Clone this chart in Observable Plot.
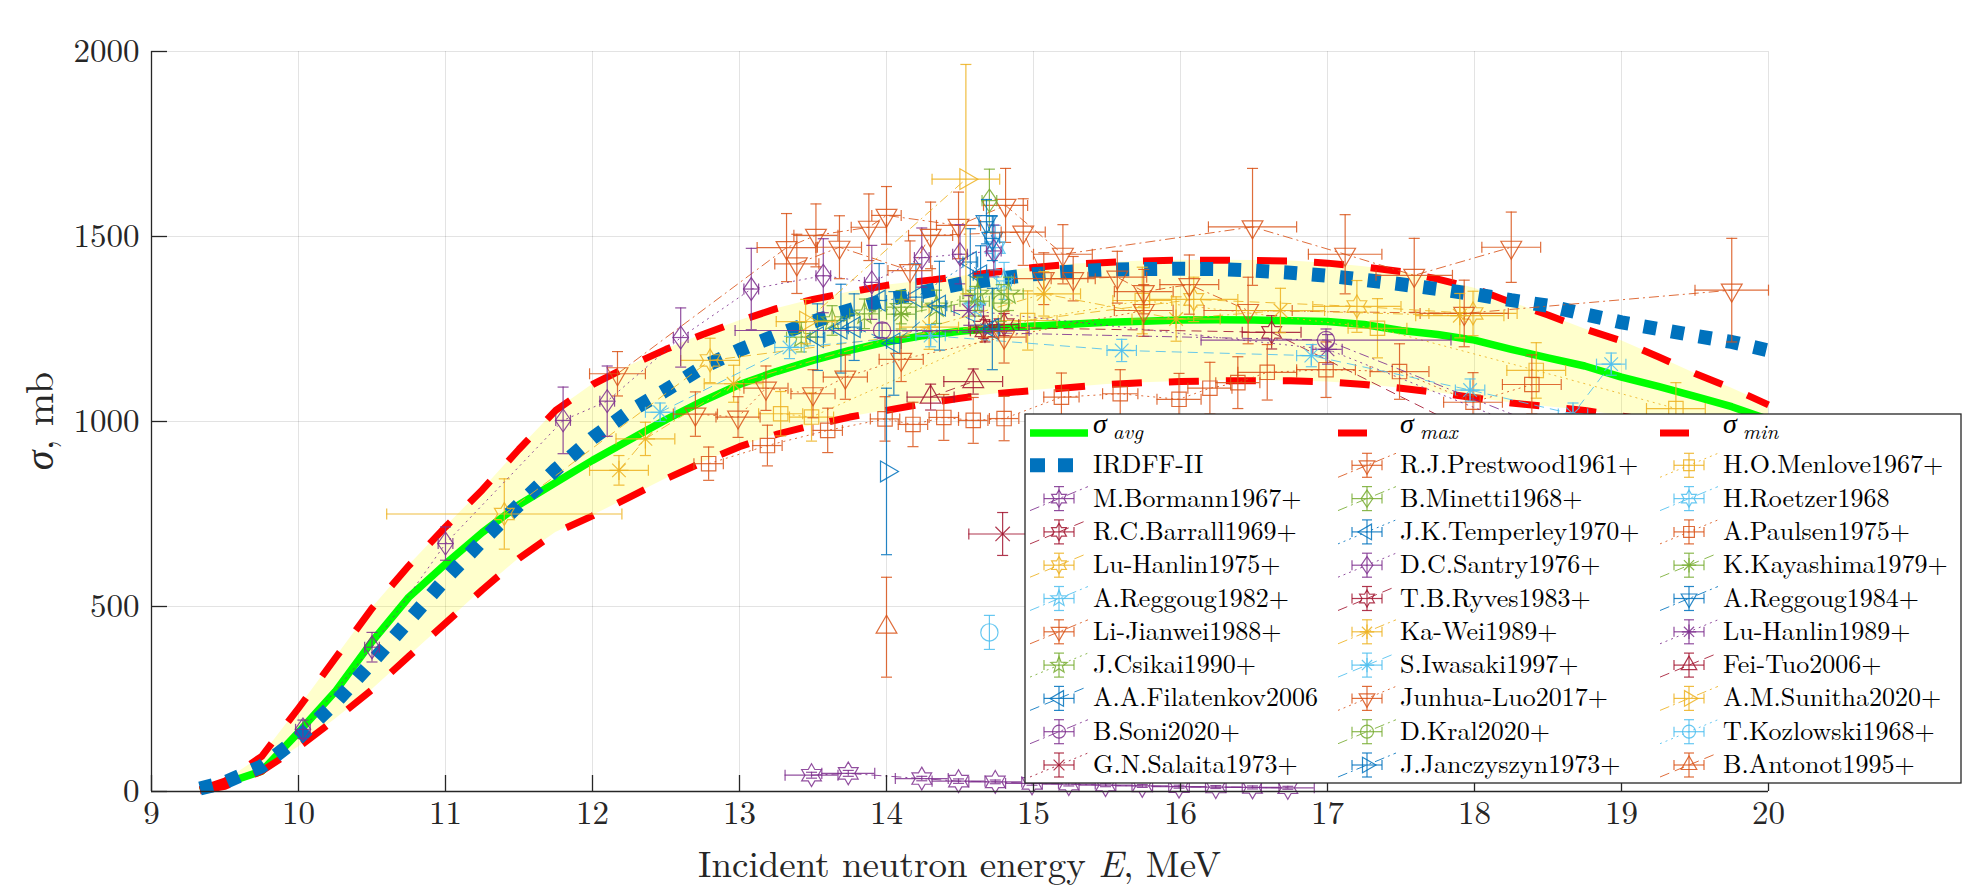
<!DOCTYPE html>
<html><head><meta charset="utf-8">
<script src="https://cdn.jsdelivr.net/npm/d3@7"></script>
<script src="https://cdn.jsdelivr.net/npm/@observablehq/plot@0.6"></script>
<style>
html,body{margin:0;padding:0;background:#fff;}
#chart{position:relative;width:1969px;height:886px;}
</style></head><body><div id="chart"></div>
<script>
// ---------- axis ticks ----------
const xTicks = [9, 10, 11, 12, 13, 14, 15, 16, 17, 18, 19, 20];
const yTicks = [0, 500, 1000, 1500, 2000];

// ---------- evaluated curves (common energy grid, MeV / mb) ----------
const curveE   = [9.33, 9.5, 9.75, 10, 10.25, 10.5, 10.75, 11, 11.25, 11.5, 11.75, 12, 12.25, 12.5, 12.75, 13, 13.25, 13.5, 13.75, 14, 14.25, 14.5, 14.75, 15, 15.25, 15.5, 15.75, 16, 16.25, 16.5, 16.75, 17, 17.25, 17.5, 17.75, 18, 18.25, 18.5, 18.75, 19, 19.25, 19.5, 19.75, 20];
const sigmaAvg = [3, 22, 55, 160, 270, 405, 525, 615, 700, 775, 835, 895, 950, 1005, 1055, 1100, 1135, 1165, 1192, 1215, 1232, 1244, 1252, 1258, 1263, 1268, 1271, 1274, 1275, 1274, 1272, 1270, 1262, 1246, 1235, 1220, 1195, 1172, 1150, 1120, 1095, 1068, 1040, 1005];
const sigmaMax = [5, 28, 95, 225, 360, 495, 610, 715, 815, 925, 1030, 1100, 1150, 1195, 1235, 1272, 1305, 1330, 1350, 1368, 1380, 1392, 1404, 1416, 1425, 1430, 1434, 1436, 1436, 1435, 1434, 1428, 1418, 1405, 1385, 1360, 1322, 1288, 1250, 1218, 1175, 1130, 1090, 1045];
const sigmaMin = [2, 14, 55, 120, 195, 275, 365, 455, 545, 630, 700, 745, 795, 845, 890, 932, 965, 990, 1012, 1030, 1048, 1063, 1075, 1084, 1092, 1100, 1105, 1108, 1110, 1110, 1110, 1107, 1100, 1090, 1078, 1064, 1050, 1040, 1030, 1015, 1000, 985, 965, 945];
const irdff2   = [8, 25, 68, 145, 240, 350, 462, 575, 678, 775, 870, 955, 1027, 1085, 1147, 1193, 1233, 1270, 1301, 1329, 1350, 1372, 1385, 1398, 1405, 1410, 1412, 1413, 1412, 1408, 1402, 1394, 1383, 1371, 1358, 1344, 1328, 1313, 1290, 1268, 1250, 1232, 1215, 1192];

// ---------- experimental data: [E, sigma, dE, dSigma] ----------
const prestwood1961 = [[12.17,1129,0.19,60],[13.32,1470,0.2,92],[13.52,1503,0.15,85],[13.88,1525,0.12,90],[14.0,1557,0.1,78],[14.49,1530,0.15,90],[14.81,1584,0.15,100],[15.2,1452,0.2,80],[16.49,1526,0.3,158],[17.12,1452,0.25,107],[17.59,1395,0.26,100],[18.25,1471,0.2,95]];
const menlove1967 = [[13.28,1021,0.15,60],[13.49,1012,0.15,65],[14.96,1273,0.2,80],[15.74,1327,0.2,90],[17.34,1252,0.2,80],[18.42,1138,0.2,75],[19.37,1035,0.2,70]];
const bormann1967 = [[13.49,44,0.18,8],[13.74,49,0.18,8],[14.24,35,0.18,6],[14.49,28,0.18,6],[14.74,26,0.18,5],[14.99,22,0.18,5],[15.24,20,0.18,5],[15.49,17,0.18,4],[15.74,15,0.18,4],[15.99,13,0.18,4],[16.24,12,0.18,4],[16.49,11,0.18,4],[16.73,10,0.18,4]];
const minetti1968 = [[14.7,1597,0.05,85]];
const roetzer1968 = [[14.74,1470,0.05,60]];
const barrall1969 = [[14.66,1255,0.1,30],[16.62,1241,0.2,45],[19.0,770,0.2,40]];
const temperley1970 = [[13.53,1228,0.05,90],[13.95,1327,0.05,100],[14.2,1336,0.05,90],[14.57,1431,0.05,90],[14.64,1395,0.05,80]];
const paulsen1975 = [[12.79,886,0.1,45],[13.19,935,0.1,55],[13.6,976,0.1,60],[13.99,1007,0.1,60],[14.18,992,0.1,60],[14.39,1011,0.1,62],[14.59,1003,0.1,62],[14.8,1008,0.1,60],[15.19,1066,0.12,65],[15.59,1075,0.12,65],[15.99,1060,0.15,70],[16.2,1090,0.15,70],[16.39,1105,0.15,70],[16.59,1133,0.2,75],[16.99,1140,0.2,75],[17.49,1135,0.2,75],[17.99,1052,0.2,80],[18.39,1100,0.2,80]];
const luHanlin1975 = [[11.4,750,0.8,95],[12.8,1165,0.2,60],[16.09,1330,0.3,60],[17.2,1311,0.3,70],[17.99,1292,0.3,60]];
const santry1976 = [[10.03,168,0.05,25],[10.5,390,0.05,40],[11.0,670,0.05,45],[11.8,1003,0.05,90],[12.1,1055,0.05,95],[12.6,1227,0.05,80],[13.08,1358,0.05,110],[13.57,1394,0.05,100],[13.9,1376,0.05,100],[14.24,1443,0.05,80],[14.5,1452,0.05,80],[14.73,1461,0.05,70]];
const kayashima1979 = [[14.1,1290,0.1,40],[14.6,1325,0.1,40]];
const reggoug1982 = [[14.6,1310,0.05,50],[14.8,1380,0.05,50]];
const ryves1983 = [[14.67,1245,0.1,30],[14.8,1262,0.1,30]];
const reggoug1984 = [[14.68,1540,0.05,60],[14.72,1495,0.05,60]];
const liJianwei1988 = [[13.39,1426,0.15,80],[13.68,1471,0.15,85],[14.16,1408,0.15,80],[14.3,1503,0.15,90],[14.93,1512,0.15,90],[15.07,1386,0.2,70],[15.27,1386,0.15,60],[15.57,1390,0.2,70],[15.75,1351,0.2,60],[16.06,1370,0.2,80],[16.46,1300,0.3,90],[17.93,1292,0.3,90],[19.75,1355,0.25,140]];
const kaWei1989 = [[12.18,868,0.2,40],[12.36,953,0.2,45],[12.96,1102,0.2,50],[14.29,1255,0.2,60],[15.07,1345,0.25,60],[15.97,1277,0.3,60],[16.68,1300,0.3,60],[17.9,1286,0.3,60]];
const luHanlin1989 = [[14.56,1300,0.1,40],[17.0,1195,0.1,40],[19.0,880,0.1,40]];
const csikai1990 = [[13.42,1228,0.1,40],[13.63,1273,0.1,40],[13.85,1291,0.1,40],[14.1,1309,0.1,45],[14.34,1310,0.1,45],[14.62,1345,0.1,45],[14.83,1345,0.1,45]];
const iwasaki1997 = [[12.46,1025,0.1,25],[13.34,1200,0.1,30],[14.3,1232,0.1,30],[15.6,1192,0.1,30],[16.89,1178,0.1,30],[17.97,1085,0.1,30],[18.67,1020,0.1,30],[18.93,1155,0.1,30]];
const feiTuo2006 = [[14.3,1066,0.16,35],[14.59,1108,0.2,34]];
const filatenkov2006 = [[13.69,1251,0.05,120],[13.78,1255,0.05,90],[14.05,1211,0.05,140],[14.36,1313,0.05,120],[14.72,1250,0.05,110]];
const junhuaLuo2017 = [[12.7,1020,0.15,60],[12.99,1012,0.15,55],[13.18,1090,0.15,60],[13.5,1075,0.15,65],[13.72,1120,0.15,60],[14.1,1168,0.15,60],[14.8,1228,0.15,70],[15.75,1300,0.2,70]];
const sunitha2020 = [[13.45,1270,0.2,60],[14.54,1655,0.23,310]];
const soni2020 = [[13.97,1246,1.0,20],[16.99,1220,0.85,30],[19.2,870,0.5,30]];
const kral2020 = [[14.78,1320,0.05,50]];
const kozlowski1968 = [[14.7,430,0,46]];
const salaita1973 = [[14.79,696,0.23,58]];
const janczyszyn1973 = [[14.0,865,0,225]];
const antonot1995 = [[14.0,444,0,135]];

// ---------- legend labels (row-major, 3 columns) ----------
const curveLabels = ["avg", "max", "min", "IRDFF-II"];
const seriesLabels = ["R.J.Prestwood1961+","H.O.Menlove1967+","M.Bormann1967+","B.Minetti1968+","H.Roetzer1968","R.C.Barrall1969+","J.K.Temperley1970+","A.Paulsen1975+","Lu-Hanlin1975+","D.C.Santry1976+","K.Kayashima1979+","A.Reggoug1982+","T.B.Ryves1983+","A.Reggoug1984+","Li-Jianwei1988+","Ka-Wei1989+","Lu-Hanlin1989+","J.Csikai1990+","S.Iwasaki1997+","Fei-Tuo2006+","A.A.Filatenkov2006","Junhua-Luo2017+","A.M.Sunitha2020+","B.Soni2020+","D.Kral2020+","T.Kozlowski1968+","G.N.Salaita1973+","J.Janczyszyn1973+","B.Antonot1995+"];
const seriesData = [prestwood1961, menlove1967, bormann1967, minetti1968, roetzer1968, barrall1969, temperley1970, paulsen1975, luHanlin1975, santry1976, kayashima1979, reggoug1982, ryves1983, reggoug1984, liJianwei1988, kaWei1989, luHanlin1989, csikai1990, iwasaki1997, feiTuo2006, filatenkov2006, junhuaLuo2017, sunitha2020, soni2020, kral2020, kozlowski1968, salaita1973, janczyszyn1973, antonot1995];

// ---------- styles ----------
const C = ["#0072BD","#D95319","#EDB120","#7E2F8E","#77AC30","#4DBEEE","#A2142F"];
const seriesMarker = ["triDown","square","hexagram","diamond","hexagram","hexagram","triLeft","square","hexagram","diamond","asterisk","pentagram","hexagram","triDown","triDown","asterisk","asterisk","pentagram","asterisk","triUp","triLeft","triDown","triRight","circle","circle","circle","times","triRight","triUp"];
const seriesLine = ["-.",":","-.","-.","-.","--",":",":","--",":","--","-.","--","-.","-.","-.",":",":","--","--","--",":","-.","-.","-.",":",":","-.","--"];
const DASH = {"-.": "10,4,2,4", "--": "10,6", ":": "2,4"};

const sym = fn => ({draw(ctx, size) { const r = Math.sqrt(size / Math.PI); fn(ctx, r); }});
function poly(ctx, pts) { ctx.moveTo(pts[0][0], pts[0][1]); for (let i = 1; i < pts.length; i++) ctx.lineTo(pts[i][0], pts[i][1]); ctx.closePath(); }
function star(ctx, r, n, inner) { const p = []; for (let i = 0; i < 2*n; i++) { const a = -Math.PI/2 + i*Math.PI/n; const rr = i % 2 ? r*inner : r; p.push([rr*Math.cos(a), rr*Math.sin(a)]); } poly(ctx, p); }
const SYM = {
  triDown: sym((c,r) => poly(c, [[0, r], [-0.866*r, -0.5*r], [0.866*r, -0.5*r]])),
  triUp: sym((c,r) => poly(c, [[0, -r], [-0.866*r, 0.5*r], [0.866*r, 0.5*r]])),
  triLeft: sym((c,r) => poly(c, [[-r, 0], [0.5*r, -0.866*r], [0.5*r, 0.866*r]])),
  triRight: sym((c,r) => poly(c, [[r, 0], [-0.5*r, -0.866*r], [-0.5*r, 0.866*r]])),
  square: sym((c,r) => poly(c, [[-0.6*r,-0.6*r],[0.6*r,-0.6*r],[0.6*r,0.6*r],[-0.6*r,0.6*r]])),
  diamond: sym((c,r) => poly(c, [[0,-0.95*r],[0.65*r,0],[0,0.95*r],[-0.65*r,0]])),
  circle: sym((c,r) => { c.moveTo(0.72*r, 0); c.arc(0, 0, 0.72*r, 0, 2*Math.PI); }),
  hexagram: sym((c,r) => star(c, 0.95*r, 6, 0.577)),
  pentagram: sym((c,r) => star(c, 0.95*r, 5, 0.42)),
  asterisk: sym((c,r) => { const k = 0.8*r, d = 0.707*k; c.moveTo(-k,0); c.lineTo(k,0); c.moveTo(0,-k); c.lineTo(0,k); c.moveTo(-d,-d); c.lineTo(d,d); c.moveTo(-d,d); c.lineTo(d,-d); }),
  times: sym((c,r) => { const d = 0.6*r; c.moveTo(-d,-d); c.lineTo(d,d); c.moveTo(-d,d); c.lineTo(d,-d); }),
  hcap: sym((c,r) => { c.moveTo(-0.46*r, 0); c.lineTo(0.46*r, 0); }),
  vcap: sym((c,r) => { c.moveTo(0, -0.46*r); c.lineTo(0, 0.46*r); })
};

const W = 1969, H = 886;
const M = {top: 51, right: 201, bottom: 95, left: 151};
const innerW = W - M.left - M.right, innerH = H - M.top - M.bottom;
const FONT = "'Latin Modern Roman','CMU Serif','Liberation Serif','DejaVu Serif',serif";
const AXIS = "#262626";
const LEG_FS = 26;
const fmt = d => String(d);

const curveRows = curveE.map((E, i) => ({E, avg: sigmaAvg[i], max: sigmaMax[i], min: sigmaMin[i], irdff: irdff2[i]}));
const toRows = a => a.map(([E, s, dE, dS]) => ({E, s, dE, dS}));

const marks = [
  Plot.gridX(xTicks, {stroke: "#000", strokeOpacity: 0.11, strokeWidth: 1}),
  Plot.gridY(yTicks, {stroke: "#000", strokeOpacity: 0.11, strokeWidth: 1}),
  Plot.areaY(curveRows, {x: "E", y1: "min", y2: "max", fill: "#ffff00", fillOpacity: 0.2}),
  Plot.line(curveRows, {x: "E", y: "avg", stroke: "#00ff00", strokeWidth: 7.5, strokeLinecap: "butt"}),
  Plot.line(curveRows, {x: "E", y: "max", stroke: "#ff0000", strokeWidth: 7, strokeDasharray: "30,27", strokeLinecap: "butt"}),
  Plot.line(curveRows, {x: "E", y: "min", stroke: "#ff0000", strokeWidth: 7, strokeDasharray: "30,27", strokeLinecap: "butt"}),
  Plot.line(curveRows, {x: "E", y: "irdff", stroke: "#0072BD", strokeWidth: 14, strokeDasharray: "13,15", strokeLinecap: "butt", strokeLinejoin: "miter"})
];

seriesData.forEach((data, k) => {
  const color = C[(k + 1) % 7];
  const rows = toRows(data);
  const hx = rows.filter(d => d.dE > 0);
  const st = {stroke: color, strokeWidth: 1.2, strokeOpacity: 0.85};
  if (rows.length > 1) marks.push(Plot.line(rows, {x: "E", y: "s", stroke: color, strokeWidth: 1, strokeOpacity: 0.85, strokeDasharray: DASH[seriesLine[k]], strokeLinecap: "butt"}));
  marks.push(Plot.ruleX(rows, {x: "E", y1: d => d.s - d.dS, y2: d => d.s + d.dS, ...st}));
  marks.push(Plot.ruleY(hx, {y: "s", x1: d => d.E - d.dE, x2: d => d.E + d.dE, ...st}));
  marks.push(Plot.dot(rows, {x: "E", y: d => d.s - d.dS, symbol: SYM.hcap, r: 12, fill: "none", ...st}));
  marks.push(Plot.dot(rows, {x: "E", y: d => d.s + d.dS, symbol: SYM.hcap, r: 12, fill: "none", ...st}));
  marks.push(Plot.dot(hx, {x: d => d.E - d.dE, y: "s", symbol: SYM.vcap, r: 12, fill: "none", ...st}));
  marks.push(Plot.dot(hx, {x: d => d.E + d.dE, y: "s", symbol: SYM.vcap, r: 12, fill: "none", ...st}));
  marks.push(Plot.dot(rows, {x: "E", y: "s", symbol: SYM[seriesMarker[k]], r: 12, fill: "none", ...st}));
});

marks.push(
  Plot.ruleX([xTicks[0]], {stroke: AXIS, strokeWidth: 1.3}),
  Plot.ruleY([yTicks[0]], {stroke: AXIS, strokeWidth: 1.3}),
  Plot.ruleX(xTicks, {insetTop: innerH - 16, stroke: AXIS, strokeWidth: 1.3}),
  Plot.ruleY(yTicks, {insetRight: innerW - 16, stroke: AXIS, strokeWidth: 1.3}),
  Plot.axisX(xTicks, {tickSize: 0, tickPadding: 9, fontSize: 33, label: null, fill: AXIS, tickFormat: fmt}),
  Plot.axisY(yTicks, {tickSize: 0, tickPadding: 12, fontSize: 33, label: null, fill: AXIS, tickFormat: fmt})
);

const svgNode = Plot.plot({
  width: W, height: H,
  marginTop: M.top, marginRight: M.right, marginBottom: M.bottom, marginLeft: M.left,
  x: {domain: [xTicks[0], xTicks[xTicks.length - 1]]},
  y: {domain: [yTicks[0], yTicks[yTicks.length - 1]]},
  style: {fontFamily: FONT, fontSize: "33px", color: AXIS, background: "#fff", overflow: "visible"},
  marks
});
document.getElementById("chart").appendChild(svgNode);

// ---------- axis titles ----------
const svg = d3.select(svgNode);
const xs = svgNode.scale("x"), ys = svgNode.scale("y");
const cx = (xs.range[0] + xs.range[1]) / 2, cy = (ys.range[0] + ys.range[1]) / 2;
const xl = svg.append("text").attr("x", cx).attr("y", H - 9).attr("text-anchor", "middle")
  .attr("font-family", FONT).attr("font-size", 37).attr("fill", AXIS);
xl.append("tspan").text("Incident neutron energy ");
xl.append("tspan").attr("font-style", "italic").text("E");
xl.append("tspan").text(", MeV");
const yl = svg.append("text").attr("transform", `translate(53,${cy}) rotate(-90)`).attr("text-anchor", "middle")
  .attr("font-family", FONT).attr("font-size", 40).attr("fill", AXIS);
yl.append("tspan").attr("font-style", "italic").text("σ");
yl.append("tspan").text(", mb");

// ---------- legend ----------
const lg = svg.append("g").attr("font-family", FONT).attr("text-anchor", "start");
lg.append("rect").attr("x", 1025).attr("y", 414).attr("width", 936).attr("height", 369)
  .attr("fill", "#fff").attr("stroke", AXIS).attr("stroke-width", 1.3);
const colX = [1030, 1338, 1660], textX = [1093, 1400, 1723];
const symPath = (s, r) => { const p = d3.path(); s.draw(p, r * r * Math.PI); return p.toString(); };
const nEntries = curveLabels.length + seriesLabels.length;
for (let i = 0; i < nEntries; i++) {
  const row = Math.floor(i / 3), col = i % 3;
  const base = 440 + row * 33.3, yc = base - 8, x0 = colX[col], tx = textX[col];
  if (i < 3) {
    const isAvg = i === 0;
    lg.append("line").attr("x1", x0).attr("x2", isAvg ? x0 + 58 : x0 + 29).attr("y1", yc + 1).attr("y2", yc + 1)
      .attr("stroke", isAvg ? "#00ff00" : "#ff0000").attr("stroke-width", isAvg ? 7.5 : 7);
    const s = lg.append("text").attr("x", tx).attr("y", base - 7).attr("font-size", LEG_FS + 2).attr("font-style", "italic").attr("fill", "#000").text("σ");
    const sw = s.node().getComputedTextLength();
    lg.append("text").attr("x", tx + sw + 6).attr("y", base - 1).attr("font-size", 21).attr("font-style", "italic").attr("fill", "#000").text(curveLabels[i]);
    continue;
  }
  if (i === 3) {
    lg.append("line").attr("x1", x0).attr("x2", x0 + 44).attr("y1", yc).attr("y2", yc)
      .attr("stroke", "#0072BD").attr("stroke-width", 14).attr("stroke-dasharray", "15,13");
    lg.append("text").attr("x", tx).attr("y", base).attr("font-size", LEG_FS).attr("fill", "#000").text(curveLabels[3]);
    continue;
  }
  const k = i - 4, color = C[(k + 1) % 7], mx = x0 + 29;
  const gg = lg.append("g").attr("stroke", color).attr("fill", "none").attr("stroke-width", 1.2).attr("stroke-opacity", 0.85);
  gg.append("line").attr("x1", x0).attr("y1", yc + 12).attr("x2", x0 + 58).attr("y2", yc - 12)
    .attr("stroke-width", 1).attr("stroke-dasharray", DASH[seriesLine[k]]);
  gg.append("line").attr("x1", mx - 15).attr("x2", mx + 15).attr("y1", yc).attr("y2", yc);
  gg.append("line").attr("x1", mx - 15).attr("x2", mx - 15).attr("y1", yc - 5).attr("y2", yc + 5);
  gg.append("line").attr("x1", mx + 15).attr("x2", mx + 15).attr("y1", yc - 5).attr("y2", yc + 5);
  gg.append("line").attr("x1", mx).attr("x2", mx).attr("y1", yc - 12).attr("y2", yc + 12);
  gg.append("line").attr("x1", mx - 5).attr("x2", mx + 5).attr("y1", yc - 12).attr("y2", yc - 12);
  gg.append("line").attr("x1", mx - 5).attr("x2", mx + 5).attr("y1", yc + 12).attr("y2", yc + 12);
  gg.append("path").attr("transform", `translate(${mx},${yc})`).attr("d", symPath(SYM[seriesMarker[k]], 9));
  lg.append("text").attr("x", tx).attr("y", base).attr("font-size", LEG_FS).attr("fill", "#000").text(seriesLabels[k]);
}
</script>
</body></html>
